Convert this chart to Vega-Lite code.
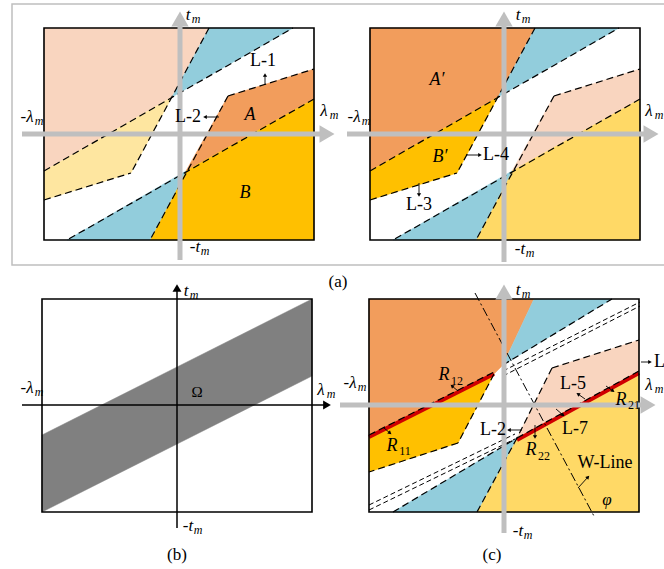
{
  "$schema": "https://vega.github.io/schema/vega-lite/v6.json",
  "width": 664,
  "height": 569,
  "autosize": {"type": "none"},
  "padding": 0,
  "background": "white",
  "config": {"view": {"stroke": null}, "text": {"font": "Liberation Serif"}},
  "datasets": {
    "regions": [
      {"id": "a1", "i": 0, "x": 44, "y": 28, "c": "#F9D5BF"}, {"id": "a1", "i": 1, "x": 209, "y": 28, "c": "#F9D5BF"}, {"id": "a1", "i": 2, "x": 172, "y": 97, "c": "#F9D5BF"}, {"id": "a1", "i": 3, "x": 44, "y": 171, "c": "#F9D5BF"},
      {"id": "a2", "i": 0, "x": 209, "y": 28, "c": "#92CDDC"}, {"id": "a2", "i": 1, "x": 293, "y": 28, "c": "#92CDDC"}, {"id": "a2", "i": 2, "x": 172, "y": 97, "c": "#92CDDC"},
      {"id": "a3", "i": 0, "x": 44, "y": 171, "c": "#FEE6A0"}, {"id": "a3", "i": 1, "x": 172, "y": 97, "c": "#FEE6A0"}, {"id": "a3", "i": 2, "x": 131, "y": 173, "c": "#FEE6A0"}, {"id": "a3", "i": 3, "x": 44, "y": 200, "c": "#FEE6A0"},
      {"id": "a4", "i": 0, "x": 228, "y": 96, "c": "#F29D5C"}, {"id": "a4", "i": 1, "x": 314, "y": 69, "c": "#F29D5C"}, {"id": "a4", "i": 2, "x": 314, "y": 99, "c": "#F29D5C"}, {"id": "a4", "i": 3, "x": 186, "y": 171, "c": "#F29D5C"},
      {"id": "a5", "i": 0, "x": 186, "y": 171, "c": "#FFC000"}, {"id": "a5", "i": 1, "x": 314, "y": 99, "c": "#FFC000"}, {"id": "a5", "i": 2, "x": 314, "y": 240, "c": "#FFC000"}, {"id": "a5", "i": 3, "x": 150, "y": 240, "c": "#FFC000"},
      {"id": "a6", "i": 0, "x": 67, "y": 240, "c": "#92CDDC"}, {"id": "a6", "i": 1, "x": 186, "y": 171, "c": "#92CDDC"}, {"id": "a6", "i": 2, "x": 150, "y": 240, "c": "#92CDDC"},
      {"id": "b1", "i": 0, "x": 370, "y": 28, "c": "#F29D5C"}, {"id": "b1", "i": 1, "x": 535, "y": 28, "c": "#F29D5C"}, {"id": "b1", "i": 2, "x": 498, "y": 97, "c": "#F29D5C"}, {"id": "b1", "i": 3, "x": 370, "y": 171, "c": "#F29D5C"},
      {"id": "b2", "i": 0, "x": 535, "y": 28, "c": "#92CDDC"}, {"id": "b2", "i": 1, "x": 619, "y": 28, "c": "#92CDDC"}, {"id": "b2", "i": 2, "x": 498, "y": 97, "c": "#92CDDC"},
      {"id": "b3", "i": 0, "x": 370, "y": 171, "c": "#FFC000"}, {"id": "b3", "i": 1, "x": 498, "y": 97, "c": "#FFC000"}, {"id": "b3", "i": 2, "x": 457, "y": 173, "c": "#FFC000"}, {"id": "b3", "i": 3, "x": 370, "y": 200, "c": "#FFC000"},
      {"id": "b4", "i": 0, "x": 554, "y": 96, "c": "#F9D5BF"}, {"id": "b4", "i": 1, "x": 640, "y": 69, "c": "#F9D5BF"}, {"id": "b4", "i": 2, "x": 640, "y": 99, "c": "#F9D5BF"}, {"id": "b4", "i": 3, "x": 512, "y": 171, "c": "#F9D5BF"},
      {"id": "b5", "i": 0, "x": 512, "y": 171, "c": "#FFD966"}, {"id": "b5", "i": 1, "x": 640, "y": 99, "c": "#FFD966"}, {"id": "b5", "i": 2, "x": 640, "y": 240, "c": "#FFD966"}, {"id": "b5", "i": 3, "x": 476, "y": 240, "c": "#FFD966"},
      {"id": "b6", "i": 0, "x": 393, "y": 240, "c": "#92CDDC"}, {"id": "b6", "i": 1, "x": 512, "y": 171, "c": "#92CDDC"}, {"id": "b6", "i": 2, "x": 476, "y": 240, "c": "#92CDDC"},
      {"id": "c0", "i": 0, "x": 42, "y": 435, "c": "#808080"}, {"id": "c0", "i": 1, "x": 312, "y": 299, "c": "#808080"}, {"id": "c0", "i": 2, "x": 312, "y": 376, "c": "#808080"}, {"id": "c0", "i": 3, "x": 42, "y": 512, "c": "#808080"},
      {"id": "d1", "i": 0, "x": 369, "y": 299, "c": "#F29D5C"}, {"id": "d1", "i": 1, "x": 534, "y": 299, "c": "#F29D5C"}, {"id": "d1", "i": 2, "x": 503, "y": 365, "c": "#F29D5C"}, {"id": "d1", "i": 3, "x": 494, "y": 374, "c": "#F29D5C"}, {"id": "d1", "i": 4, "x": 369, "y": 437, "c": "#F29D5C"},
      {"id": "d2", "i": 0, "x": 534, "y": 299, "c": "#92CDDC"}, {"id": "d2", "i": 1, "x": 612, "y": 299, "c": "#92CDDC"}, {"id": "d2", "i": 2, "x": 503, "y": 365, "c": "#92CDDC"},
      {"id": "d3", "i": 0, "x": 369, "y": 437, "c": "#FFC000"}, {"id": "d3", "i": 1, "x": 494, "y": 374, "c": "#FFC000"}, {"id": "d3", "i": 2, "x": 458, "y": 443, "c": "#FFC000"}, {"id": "d3", "i": 3, "x": 369, "y": 472, "c": "#FFC000"},
      {"id": "d4", "i": 0, "x": 552, "y": 368, "c": "#F9D5BF"}, {"id": "d4", "i": 1, "x": 639, "y": 340, "c": "#F9D5BF"}, {"id": "d4", "i": 2, "x": 639, "y": 373, "c": "#F9D5BF"}, {"id": "d4", "i": 3, "x": 517, "y": 438, "c": "#F9D5BF"},
      {"id": "d5", "i": 0, "x": 517, "y": 438, "c": "#FFD966"}, {"id": "d5", "i": 1, "x": 639, "y": 373, "c": "#FFD966"}, {"id": "d5", "i": 2, "x": 639, "y": 512, "c": "#FFD966"}, {"id": "d5", "i": 3, "x": 477, "y": 512, "c": "#FFD966"},
      {"id": "d6", "i": 0, "x": 393, "y": 512, "c": "#92CDDC"}, {"id": "d6", "i": 1, "x": 477, "y": 512, "c": "#92CDDC"}, {"id": "d6", "i": 2, "x": 517, "y": 438, "c": "#92CDDC"}
    ],
    "segs": [
      {"id": "l1", "k": "d", "i": 0, "x": 44, "y": 171}, {"id": "l1", "k": "d", "i": 1, "x": 293, "y": 28},
      {"id": "l2", "k": "d", "i": 0, "x": 209, "y": 28}, {"id": "l2", "k": "d", "i": 1, "x": 131, "y": 173},
      {"id": "l3", "k": "d", "i": 0, "x": 44, "y": 200}, {"id": "l3", "k": "d", "i": 1, "x": 131, "y": 173},
      {"id": "l4", "k": "d", "i": 0, "x": 228, "y": 96}, {"id": "l4", "k": "d", "i": 1, "x": 314, "y": 69},
      {"id": "l5", "k": "d", "i": 0, "x": 228, "y": 96}, {"id": "l5", "k": "d", "i": 1, "x": 150, "y": 240},
      {"id": "l6", "k": "d", "i": 0, "x": 314, "y": 99}, {"id": "l6", "k": "d", "i": 1, "x": 67, "y": 240},
      {"id": "l7", "k": "d", "i": 0, "x": 370, "y": 171}, {"id": "l7", "k": "d", "i": 1, "x": 619, "y": 28},
      {"id": "l8", "k": "d", "i": 0, "x": 535, "y": 28}, {"id": "l8", "k": "d", "i": 1, "x": 457, "y": 173},
      {"id": "l9", "k": "d", "i": 0, "x": 370, "y": 200}, {"id": "l9", "k": "d", "i": 1, "x": 457, "y": 173},
      {"id": "l10", "k": "d", "i": 0, "x": 554, "y": 96}, {"id": "l10", "k": "d", "i": 1, "x": 640, "y": 69},
      {"id": "l11", "k": "d", "i": 0, "x": 554, "y": 96}, {"id": "l11", "k": "d", "i": 1, "x": 476, "y": 240},
      {"id": "l12", "k": "d", "i": 0, "x": 640, "y": 99}, {"id": "l12", "k": "d", "i": 1, "x": 393, "y": 240},
      {"id": "l13", "k": "d", "i": 0, "x": 503, "y": 365}, {"id": "l13", "k": "d", "i": 1, "x": 612, "y": 299},
      {"id": "l14", "k": "d", "i": 0, "x": 494, "y": 374}, {"id": "l14", "k": "d", "i": 1, "x": 458, "y": 443},
      {"id": "l15", "k": "d", "i": 0, "x": 458, "y": 443}, {"id": "l15", "k": "d", "i": 1, "x": 369, "y": 472},
      {"id": "l16", "k": "d", "i": 0, "x": 552, "y": 368}, {"id": "l16", "k": "d", "i": 1, "x": 639, "y": 340},
      {"id": "l17", "k": "d", "i": 0, "x": 552, "y": 368}, {"id": "l17", "k": "d", "i": 1, "x": 517, "y": 438},
      {"id": "l18", "k": "d", "i": 0, "x": 517, "y": 438}, {"id": "l18", "k": "d", "i": 1, "x": 477, "y": 512},
      {"id": "l19", "k": "d", "i": 0, "x": 393, "y": 512}, {"id": "l19", "k": "d", "i": 1, "x": 517, "y": 438},
      {"id": "l20", "k": "p", "i": 0, "x": 503, "y": 371}, {"id": "l20", "k": "p", "i": 1, "x": 640, "y": 302},
      {"id": "l21", "k": "p", "i": 0, "x": 503, "y": 376}, {"id": "l21", "k": "p", "i": 1, "x": 640, "y": 306},
      {"id": "l22", "k": "p", "i": 0, "x": 369, "y": 505}, {"id": "l22", "k": "p", "i": 1, "x": 515, "y": 434},
      {"id": "l23", "k": "p", "i": 0, "x": 369, "y": 510}, {"id": "l23", "k": "p", "i": 1, "x": 515, "y": 439},
      {"id": "r1", "k": "r", "i": 0, "x": 369, "y": 437}, {"id": "r1", "k": "r", "i": 1, "x": 494, "y": 374},
      {"id": "r2", "k": "r", "i": 0, "x": 517, "y": 440}, {"id": "r2", "k": "r", "i": 1, "x": 639, "y": 373},
      {"id": "l24", "k": "d", "i": 0, "x": 369, "y": 435}, {"id": "l24", "k": "d", "i": 1, "x": 494, "y": 372},
      {"id": "l25", "k": "d", "i": 0, "x": 517, "y": 438}, {"id": "l25", "k": "d", "i": 1, "x": 639, "y": 371},
      {"id": "w1", "k": "w", "i": 0, "x": 475, "y": 293}, {"id": "w1", "k": "w", "i": 1, "x": 595, "y": 518},
      {"id": "g1", "k": "g", "i": 0, "x": 180, "y": 24}, {"id": "g1", "k": "g", "i": 1, "x": 180, "y": 260},
      {"id": "g2", "k": "g", "i": 0, "x": 22, "y": 134}, {"id": "g2", "k": "g", "i": 1, "x": 320, "y": 134},
      {"id": "g3", "k": "g", "i": 0, "x": 504, "y": 24}, {"id": "g3", "k": "g", "i": 1, "x": 504, "y": 262},
      {"id": "g4", "k": "g", "i": 0, "x": 347, "y": 134}, {"id": "g4", "k": "g", "i": 1, "x": 644, "y": 134},
      {"id": "g5", "k": "g", "i": 0, "x": 504, "y": 297}, {"id": "g5", "k": "g", "i": 1, "x": 504, "y": 533},
      {"id": "g6", "k": "g", "i": 0, "x": 340, "y": 405}, {"id": "g6", "k": "g", "i": 1, "x": 641, "y": 405},
      {"id": "k1", "k": "b", "i": 0, "x": 177, "y": 290}, {"id": "k1", "k": "b", "i": 1, "x": 177, "y": 528},
      {"id": "k2", "k": "b", "i": 0, "x": 22, "y": 405}, {"id": "k2", "k": "b", "i": 1, "x": 326, "y": 405},
      {"id": "a1", "k": "a", "i": 0, "x": 265, "y": 85}, {"id": "a1", "k": "a", "i": 1, "x": 265, "y": 75},
      {"id": "a2", "k": "a", "i": 0, "x": 219, "y": 117}, {"id": "a2", "k": "a", "i": 1, "x": 205, "y": 117},
      {"id": "a3", "k": "a", "i": 0, "x": 466, "y": 155}, {"id": "a3", "k": "a", "i": 1, "x": 480, "y": 155},
      {"id": "a4", "k": "a", "i": 0, "x": 419, "y": 183}, {"id": "a4", "k": "a", "i": 1, "x": 419, "y": 195},
      {"id": "a5", "k": "a", "i": 0, "x": 458, "y": 391}, {"id": "a5", "k": "a", "i": 1, "x": 452, "y": 386},
      {"id": "a6", "k": "a", "i": 0, "x": 384, "y": 428}, {"id": "a6", "k": "a", "i": 1, "x": 390, "y": 433},
      {"id": "a7", "k": "a", "i": 0, "x": 585, "y": 399}, {"id": "a7", "k": "a", "i": 1, "x": 578, "y": 394},
      {"id": "a8", "k": "a", "i": 0, "x": 606, "y": 386}, {"id": "a8", "k": "a", "i": 1, "x": 613, "y": 391},
      {"id": "a9", "k": "a", "i": 0, "x": 556, "y": 409}, {"id": "a9", "k": "a", "i": 1, "x": 563, "y": 415},
      {"id": "a10", "k": "a", "i": 0, "x": 535, "y": 425}, {"id": "a10", "k": "a", "i": 1, "x": 535, "y": 437},
      {"id": "a11", "k": "a", "i": 0, "x": 522, "y": 430}, {"id": "a11", "k": "a", "i": 1, "x": 509, "y": 430},
      {"id": "a12", "k": "a", "i": 0, "x": 578, "y": 488}, {"id": "a12", "k": "a", "i": 1, "x": 588, "y": 477},
      {"id": "a13", "k": "a", "i": 0, "x": 641, "y": 362}, {"id": "a13", "k": "a", "i": 1, "x": 650, "y": 362}
    ],
    "frames": [
      {"x": 12, "x2": 720, "y": 4, "y2": 265, "c": "#BFBFBF", "w": 1.5},
      {"x": 44, "x2": 314, "y": 28, "y2": 240, "c": "black", "w": 1.6},
      {"x": 370, "x2": 640, "y": 28, "y2": 240, "c": "black", "w": 1.6},
      {"x": 42, "x2": 312, "y": 299, "y2": 512, "c": "black", "w": 1.6},
      {"x": 369, "x2": 639, "y": 299, "y2": 512, "c": "black", "w": 1.6}
    ],
    "heads": [
      {"x": 180, "y": 19, "a": 0, "c": "#BFBFBF", "z": 300},
      {"x": 327, "y": 134, "a": 90, "c": "#BFBFBF", "z": 300},
      {"x": 504, "y": 19, "a": 0, "c": "#BFBFBF", "z": 300},
      {"x": 651, "y": 134, "a": 90, "c": "#BFBFBF", "z": 300},
      {"x": 504, "y": 292, "a": 0, "c": "#BFBFBF", "z": 300},
      {"x": 648, "y": 405, "a": 90, "c": "#BFBFBF", "z": 300},
      {"x": 177, "y": 288, "a": 0, "c": "black", "z": 80},
      {"x": 327, "y": 405, "a": 90, "c": "black", "z": 80},
      {"x": 265, "y": 75, "a": 0, "c": "black", "z": 18},
      {"x": 205, "y": 117, "a": 270, "c": "black", "z": 18},
      {"x": 480, "y": 155, "a": 90, "c": "black", "z": 18},
      {"x": 419, "y": 195, "a": 180, "c": "black", "z": 18},
      {"x": 452, "y": 386, "a": 311, "c": "black", "z": 18},
      {"x": 390, "y": 433, "a": 130, "c": "black", "z": 18},
      {"x": 578, "y": 394, "a": 302, "c": "black", "z": 18},
      {"x": 613, "y": 391, "a": 127, "c": "black", "z": 18},
      {"x": 563, "y": 415, "a": 131, "c": "black", "z": 18},
      {"x": 535, "y": 437, "a": 180, "c": "black", "z": 18},
      {"x": 509, "y": 430, "a": 270, "c": "black", "z": 18},
      {"x": 588, "y": 477, "a": 42, "c": "black", "z": 18},
      {"x": 650, "y": 362, "a": 90, "c": "black", "z": 18}
    ],
    "italic": [
      {"t": "t", "x": 188, "y": 15, "s": 17}, {"t": "m", "x": 196, "y": 19, "s": 12},
      {"t": "-t", "x": 195, "y": 247, "s": 17}, {"t": "m", "x": 205, "y": 251, "s": 12},
      {"t": "-λ", "x": 27, "y": 117, "s": 17}, {"t": "m", "x": 39, "y": 121, "s": 12},
      {"t": "λ", "x": 324, "y": 111, "s": 17}, {"t": "m", "x": 334, "y": 115, "s": 12},
      {"t": "A", "x": 250, "y": 115, "s": 18}, {"t": "B", "x": 245, "y": 193, "s": 18},
      {"t": "t", "x": 518, "y": 15, "s": 17}, {"t": "m", "x": 526, "y": 19, "s": 12},
      {"t": "-t", "x": 520, "y": 249, "s": 17}, {"t": "m", "x": 530, "y": 253, "s": 12},
      {"t": "-λ", "x": 354, "y": 117, "s": 17}, {"t": "m", "x": 366, "y": 121, "s": 12},
      {"t": "λ", "x": 649, "y": 111, "s": 17}, {"t": "m", "x": 659, "y": 115, "s": 12},
      {"t": "A′", "x": 437, "y": 80, "s": 18}, {"t": "B′", "x": 440, "y": 157, "s": 18},
      {"t": "t", "x": 186, "y": 291, "s": 17}, {"t": "m", "x": 194, "y": 295, "s": 12},
      {"t": "-t", "x": 188, "y": 526, "s": 17}, {"t": "m", "x": 198, "y": 530, "s": 12},
      {"t": "-λ", "x": 27, "y": 388, "s": 17}, {"t": "m", "x": 39, "y": 392, "s": 12},
      {"t": "λ", "x": 321, "y": 390, "s": 17}, {"t": "m", "x": 331, "y": 394, "s": 12},
      {"t": "t", "x": 518, "y": 290, "s": 17}, {"t": "m", "x": 526, "y": 294, "s": 12},
      {"t": "-t", "x": 518, "y": 531, "s": 17}, {"t": "m", "x": 528, "y": 535, "s": 12},
      {"t": "-λ", "x": 350, "y": 383, "s": 17}, {"t": "m", "x": 362, "y": 387, "s": 12},
      {"t": "λ", "x": 649, "y": 385, "s": 17}, {"t": "m", "x": 659, "y": 389, "s": 12},
      {"t": "R", "x": 444, "y": 375, "s": 18}, {"t": "R", "x": 392, "y": 446, "s": 18},
      {"t": "R", "x": 621, "y": 400, "s": 18}, {"t": "R", "x": 531, "y": 450, "s": 18},
      {"t": "φ", "x": 607, "y": 500, "s": 17}
    ],
    "roman": [
      {"t": "L-1", "x": 263, "y": 61, "s": 18},
      {"t": "L-2", "x": 188, "y": 117, "s": 18},
      {"t": "L-4", "x": 496, "y": 155, "s": 18},
      {"t": "L-3", "x": 419, "y": 205, "s": 18},
      {"t": "(a)", "x": 338, "y": 282, "s": 17},
      {"t": "Ω", "x": 197, "y": 392, "s": 15},
      {"t": "(b)", "x": 177, "y": 555, "s": 17},
      {"t": "(c)", "x": 492, "y": 555, "s": 17},
      {"t": "12", "x": 457, "y": 381, "s": 12}, {"t": "11", "x": 405, "y": 451, "s": 12},
      {"t": "21", "x": 634, "y": 405, "s": 12}, {"t": "22", "x": 544, "y": 456, "s": 12},
      {"t": "L-5", "x": 573, "y": 384, "s": 18},
      {"t": "L-2", "x": 493, "y": 430, "s": 18},
      {"t": "L-7", "x": 575, "y": 429, "s": 18},
      {"t": "W-Line", "x": 605, "y": 463, "s": 18},
      {"t": "L-6", "x": 667, "y": 362, "s": 18}
    ]
  },
  "encoding": {
    "x": {"field": "x", "type": "quantitative", "scale": {"domain": [0, 664], "nice": false, "zero": false}, "axis": null},
    "y": {"field": "y", "type": "quantitative", "scale": {"domain": [0, 569], "nice": false, "zero": false, "reverse": true}, "axis": null}
  },
  "layer": [
    {
      "data": {"name": "regions"},
      "mark": {"type": "line", "interpolate": "linear-closed", "strokeWidth": 0.5},
      "encoding": {
        "detail": {"field": "id"},
        "order": {"field": "i"},
        "fill": {"field": "c", "type": "nominal", "scale": null},
        "stroke": {"field": "c", "type": "nominal", "scale": null}
      }
    },
    {
      "data": {"name": "segs"},
      "transform": [{"filter": "datum.k == 'r'"}],
      "mark": {"type": "line", "color": "#D00000", "strokeWidth": 4},
      "encoding": {"detail": {"field": "id"}, "order": {"field": "i"}}
    },
    {
      "data": {"name": "segs"},
      "transform": [{"filter": "datum.k == 'd'"}],
      "mark": {"type": "line", "color": "black", "strokeWidth": 1.2, "strokeDash": [7, 4]},
      "encoding": {"detail": {"field": "id"}, "order": {"field": "i"}}
    },
    {
      "data": {"name": "segs"},
      "transform": [{"filter": "datum.k == 'p'"}],
      "mark": {"type": "line", "color": "black", "strokeWidth": 1, "strokeDash": [5, 3]},
      "encoding": {"detail": {"field": "id"}, "order": {"field": "i"}}
    },
    {
      "data": {"name": "segs"},
      "transform": [{"filter": "datum.k == 'w'"}],
      "mark": {"type": "line", "color": "black", "strokeWidth": 1, "strokeDash": [9, 3, 2, 3]},
      "encoding": {"detail": {"field": "id"}, "order": {"field": "i"}}
    },
    {
      "data": {"name": "frames"},
      "mark": {"type": "rect", "filled": false},
      "encoding": {
        "x2": {"field": "x2"},
        "y2": {"field": "y2"},
        "stroke": {"field": "c", "type": "nominal", "scale": null},
        "strokeWidth": {"field": "w", "type": "quantitative", "scale": null}
      }
    },
    {
      "data": {"name": "segs"},
      "transform": [{"filter": "datum.k == 'g'"}],
      "mark": {"type": "line", "color": "#BFBFBF", "strokeWidth": 5},
      "encoding": {"detail": {"field": "id"}, "order": {"field": "i"}}
    },
    {
      "data": {"name": "segs"},
      "transform": [{"filter": "datum.k == 'b'"}],
      "mark": {"type": "line", "color": "black", "strokeWidth": 1.5},
      "encoding": {"detail": {"field": "id"}, "order": {"field": "i"}}
    },
    {
      "data": {"name": "segs"},
      "transform": [{"filter": "datum.k == 'a'"}],
      "mark": {"type": "line", "color": "black", "strokeWidth": 0.9},
      "encoding": {"detail": {"field": "id"}, "order": {"field": "i"}}
    },
    {
      "data": {"name": "heads"},
      "mark": {"type": "point", "shape": "triangle-up", "filled": true, "opacity": 1, "strokeWidth": 0},
      "encoding": {
        "angle": {"field": "a", "type": "quantitative", "scale": null},
        "color": {"field": "c", "type": "nominal", "scale": null},
        "size": {"field": "z", "type": "quantitative", "scale": null}
      }
    },
    {
      "data": {"name": "italic"},
      "mark": {"type": "text", "fontStyle": "italic", "align": "center", "baseline": "middle", "color": "black"},
      "encoding": {
        "text": {"field": "t"},
        "size": {"field": "s", "type": "quantitative", "scale": null}
      }
    },
    {
      "data": {"name": "roman"},
      "mark": {"type": "text", "align": "center", "baseline": "middle", "color": "black"},
      "encoding": {
        "text": {"field": "t"},
        "size": {"field": "s", "type": "quantitative", "scale": null}
      }
    }
  ]
}
